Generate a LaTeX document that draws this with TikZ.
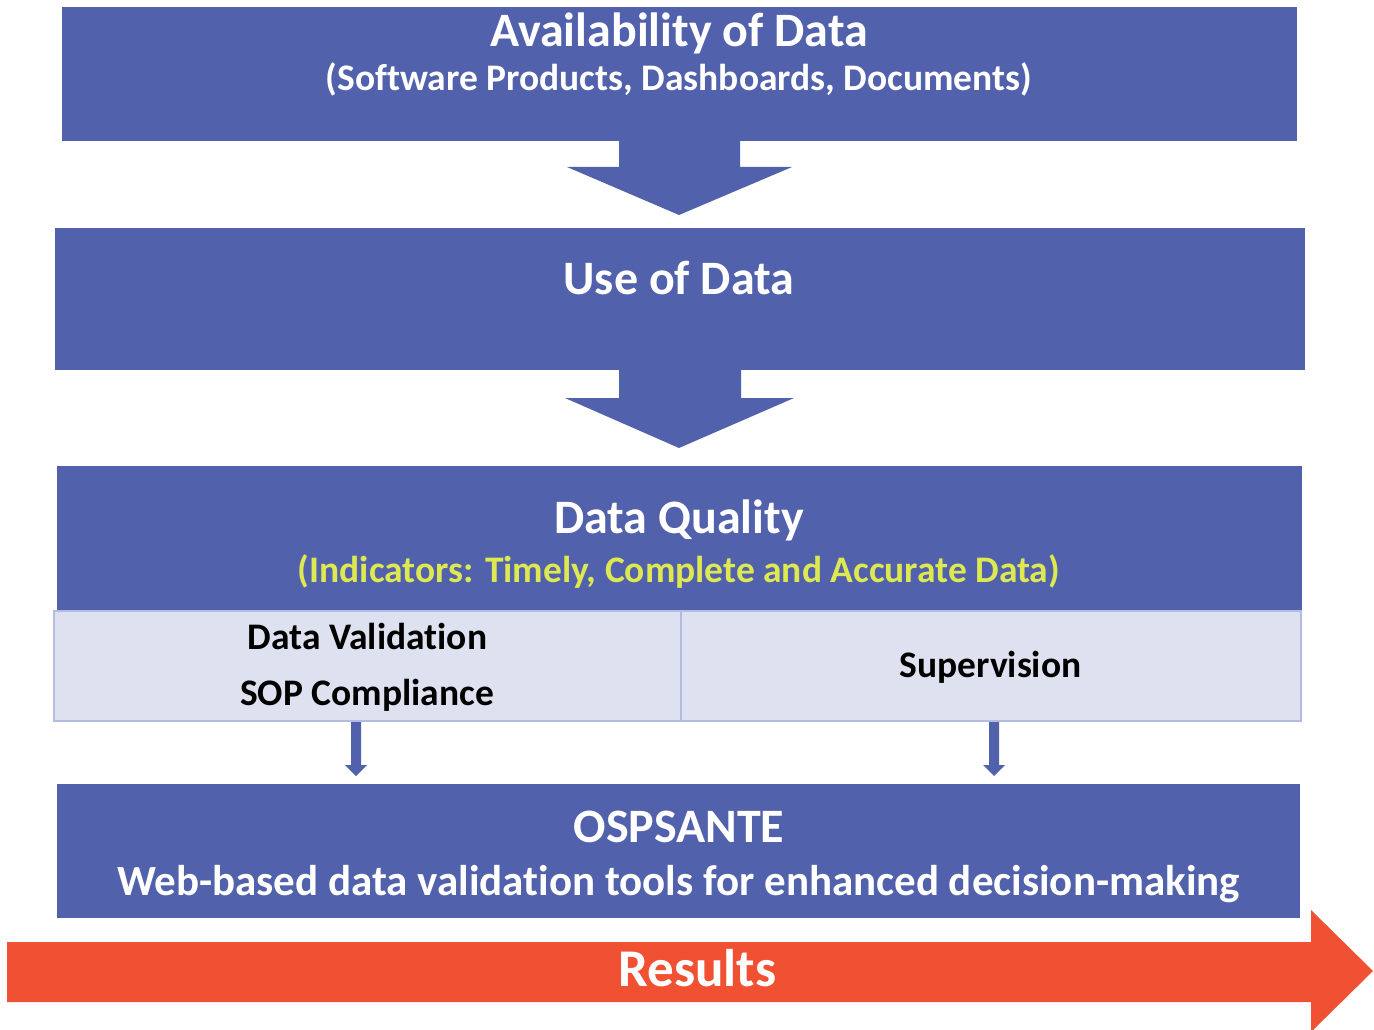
\documentclass[tikz,border=0pt]{standalone}
\usepackage{fontspec}
\setmainfont{Carlito}[Ligatures=NoCommon]
\definecolor{dblue}{RGB}{82,97,172}
\definecolor{lfill}{RGB}{222,225,239}
\definecolor{lborder}{RGB}{180,187,224}
\definecolor{dorange}{RGB}{240,81,51}
\definecolor{dyellow}{RGB}{222,232,80}
\tikzset{
  bluebox/.style={fill=dblue, draw=none},
  cellbox/.style={fill=lfill, draw=lborder, line width=2pt},
  bigarrow/.style={fill=dblue, draw=none},
  wtext/.style={text=white, font=\bfseries, anchor=base, inner sep=0pt},
  ktext/.style={text=black, font=\bfseries, anchor=base, inner sep=0pt},
}
\begin{document}
\begin{tikzpicture}[x=1pt,y=-1pt]
\useasboundingbox (0,0) rectangle (1374,1030);
% boxes
\path[bluebox] (62,7) rectangle (1297,141);
\path[bluebox] (55,228) rectangle (1305,370);
\path[bluebox] (57,466) rectangle (1302,611);
\path[bluebox] (57,784) rectangle (1300,918);
% big arrows
\path[bigarrow] (619,140) -- (740,140) -- (740,167) -- (792,167) -- (679,215) -- (567,167) -- (619,167) -- cycle;
\path[bigarrow] (619,369) -- (741,369) -- (741,398) -- (794,398) -- (679,448) -- (565,398) -- (619,398) -- cycle;
% table cells
\draw[cellbox] (54,611) rectangle (681,721);
\draw[cellbox] (681,611) rectangle (1301,721);
\path[fill=dblue] (351,722) -- (361,722) -- (361,765) -- (367,765) -- (356,776) -- (345,765) -- (351,765) -- cycle;
\path[fill=dblue] (989,722) -- (999,722) -- (999,765) -- (1005,765) -- (994,776) -- (983,765) -- (989,765) -- cycle;
% results arrow
\path[fill=dorange] (7,942) -- (1311,942) -- (1311,910) -- (1373,971) -- (1311,1032) -- (1311,1002) -- (7,1002) -- cycle;
% texts
\node[wtext, font=\bfseries\fontsize{48}{48}\selectfont] (t-avail) at (679,47) {Availability of Data};
\node[wtext, font=\bfseries\fontsize{37.5}{37.5}\selectfont] (t-soft) at (679,90.5) {(Software Products, Dashboards, Documents)};
\node[wtext, font=\bfseries\fontsize{48}{48}\selectfont] (t-use) at (679,294.5) {Use of Data};
\node[wtext, font=\bfseries\fontsize{48}{48}\selectfont] (t-dq) at (679,533.5) {Data Quality};
\node[wtext, text=dyellow, font=\bfseries\fontsize{37.5}{37.5}\selectfont] (t-ind) at (679,582) {(Indicators: Timely, Complete and Accurate Data)};
\node[ktext, font=\bfseries\fontsize{37.5}{37.5}\selectfont] (t-dv) at (367.5,649) {Data Validation};
\node[ktext, font=\bfseries\fontsize{37.5}{37.5}\selectfont] (t-sop) at (367,705) {SOP Compliance};
\node[ktext, font=\bfseries\fontsize{37.5}{37.5}\selectfont] (t-sup) at (990.5,677) {Supervision};
\node[wtext, font=\bfseries\fontsize{48}{48}\selectfont] (t-osp) at (679,842.5) {OSPSANTE};
\node[wtext, font=\bfseries\fontsize{43}{43}\selectfont] (t-web) at (678.5,895) {Web-based data validation tools for enhanced decision-making};
\node[wtext, font=\bfseries\fontsize{53}{53}\selectfont] (t-res) at (697.5,986) {Results};
\end{tikzpicture}
\end{document}
